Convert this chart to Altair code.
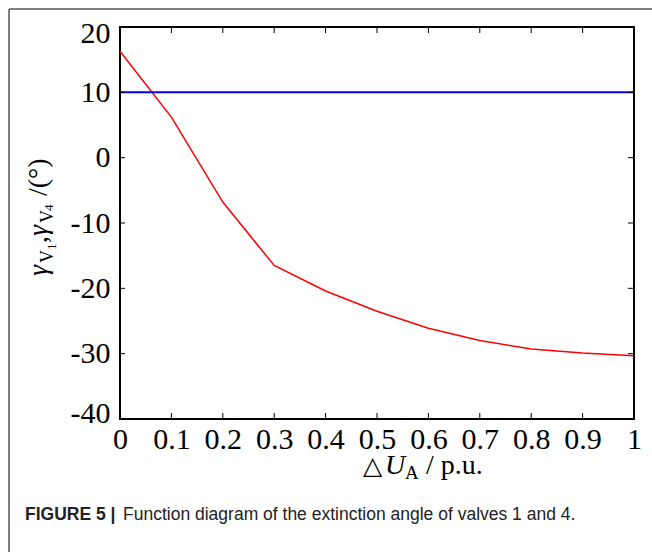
import altair as alt
import pandas as pd

# ---- data ----
delta_ua = [0.0, 0.1, 0.2, 0.3, 0.4, 0.5, 0.6, 0.7, 0.8, 0.9, 1.0]
gamma_v1 = [16.3, 6.2, -6.8, -16.5, -20.4, -23.5, -26.1, -28.0, -29.3, -29.9, -30.3]
gamma_v4 = [10.0, 10.0, 10.0, 10.0, 10.0, 10.0, 10.0, 10.0, 10.0, 10.0, 10.0]
x_tick_values = [0, 0.1, 0.2, 0.3, 0.4, 0.5, 0.6, 0.7, 0.8, 0.9, 1]
y_tick_values = [20, 10, 0, -10, -20, -30, -40]
x_inner_ticks = [0.1, 0.2, 0.3, 0.4, 0.5, 0.6, 0.7, 0.8, 0.9]
y_inner_ticks = [10, 0, -10, -20, -30]

W, H = 514, 392
SERIF = "Liberation Serif"
SANS = "Liberation Sans"

df = pd.DataFrame({"x": delta_ua, "v1": gamma_v1, "v4": gamma_v4})

xscale = alt.Scale(domain=[0, 1], nice=False, zero=False)
yscale = alt.Scale(domain=[-40, 20], nice=False, zero=False)

xaxis = alt.Axis(values=x_tick_values, labelExpr="'' + datum.value", ticks=False,
                 domain=False, grid=False, labelFont=SERIF, labelFontSize=30,
                 labelColor="black", labelPadding=5, labelOverlap=False,
                 labelFlush=False, title=None)
yaxis = alt.Axis(values=y_tick_values, labelExpr="'' + datum.value", ticks=False,
                 domain=False, grid=False, labelFont=SERIF, labelFontSize=30,
                 labelColor="black", labelPadding=10, labelOverlap=False,
                 labelFlush=True, labelFlushOffset=9, title=None)

base = alt.Chart(df)

red = base.mark_line(color="#ff0000", strokeWidth=1.5).encode(
    x=alt.X("x:Q", scale=xscale, axis=xaxis),
    y=alt.Y("v1:Q", scale=yscale, axis=yaxis),
)
blue = base.mark_line(color="#0000ee", strokeWidth=2).encode(
    x=alt.X("x:Q", scale=xscale),
    y=alt.Y("v4:Q", scale=yscale),
)

xt = alt.Data(values=[{"t": v} for v in x_inner_ticks])
yt = alt.Data(values=[{"t": v} for v in y_inner_ticks])

xt_bottom = alt.Chart(xt).mark_rule(color="black", strokeWidth=1).encode(
    x=alt.X("t:Q", scale=xscale), y=alt.value(H), y2=alt.value(H - 6))
xt_top = alt.Chart(xt).mark_rule(color="black", strokeWidth=1).encode(
    x=alt.X("t:Q", scale=xscale), y=alt.value(0), y2=alt.value(6))
yt_left = alt.Chart(yt).mark_rule(color="black", strokeWidth=1).encode(
    y=alt.Y("t:Q", scale=yscale), x=alt.value(0), x2=alt.value(5))
yt_right = alt.Chart(yt).mark_rule(color="black", strokeWidth=1).encode(
    y=alt.Y("t:Q", scale=yscale), x=alt.value(W), x2=alt.value(W - 6))

one = alt.Data(values=[{"k": 1}])

# outer figure frame (top and left edges)
frame_top = alt.Chart(one).mark_rule(color="#555555", strokeWidth=1.5).encode(
    x=alt.value(-111), x2=alt.value(540), y=alt.value(-18))
frame_left = alt.Chart(one).mark_rule(color="#555555", strokeWidth=1.5).encode(
    x=alt.value(-111), y=alt.value(-18), y2=alt.value(530))


def txt(s, x, y, size=28, font=SERIF, style="normal", weight="normal",
        angle=0, color="black"):
    return alt.Chart(one).mark_text(
        text=s, font=font, fontSize=size, fontStyle=style, fontWeight=weight,
        align="left", baseline="alphabetic", angle=angle, color=color,
    ).encode(x=alt.value(x), y=alt.value(y))


# x-axis title: △U_A / p.u.
xtitle = [
    txt("△", 243, 447, size=25),
    txt("U", 265, 447, style="italic"),
    txt("A", 285, 452, size=19),
    txt("/ p.u.", 306, 447),
]

# y-axis title: γ_V1, γ_V4 /(°)  (rotated)
yl = -73
ytitle = [
    txt("γ", yl, 249, style="italic", angle=270),
    txt("V", yl + 6, 236, size=18, angle=270),
    txt("1", yl + 9, 223, size=13, angle=270),
    txt(",", yl, 216, angle=270),
    txt("γ", yl, 209, style="italic", angle=270),
    txt("V", yl + 6, 196, size=18, angle=270),
    txt("4", yl + 6, 184, size=13, angle=270),
    txt("/(°)", yl, 169, angle=270),
]

caption = [
    txt("FIGURE 5 |", -95, 493, size=17.5, font=SANS, weight="bold", color="#222222"),
    txt("Function diagram of the extinction angle of valves 1 and 4.", 3, 493,
        size=17.5, font=SANS, color="#222222"),
]

chart = alt.layer(
    red, blue, xt_bottom, xt_top, yt_left, yt_right,
    frame_top, frame_left, *xtitle, *ytitle, *caption,
).properties(
    width=W, height=H,
    background="white",
    autosize=alt.AutoSizeParams(type="none"),
    padding={"left": 120, "top": 27, "right": 18, "bottom": 133},
).configure_view(
    stroke="black", strokeWidth=2, clip=False
)

chart.save("out.html", embed_options={"renderer": "svg", "actions": False})
